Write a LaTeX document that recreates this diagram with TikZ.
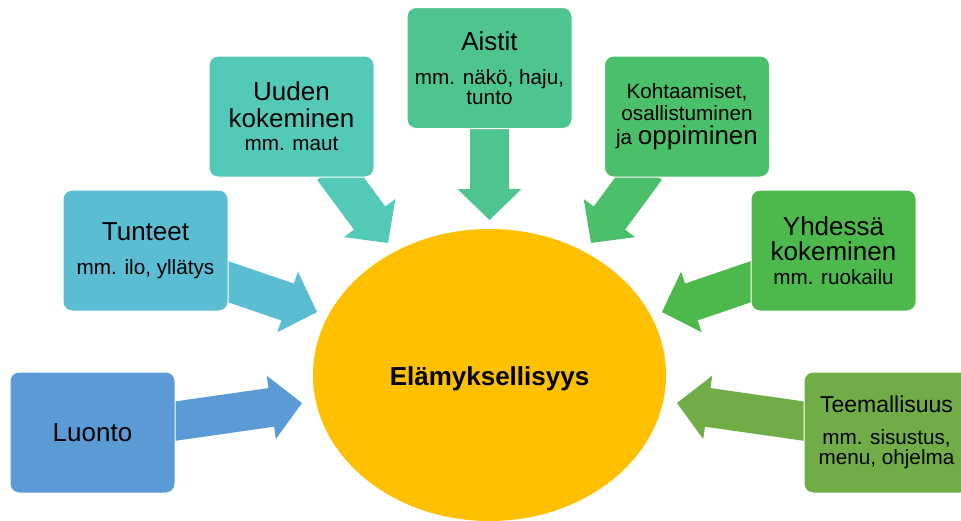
\documentclass[tikz,border=0pt]{standalone}
\usepackage{fontspec}
\setmainfont{Liberation Sans}
\usetikzlibrary{calc,shapes.geometric}
\definecolor{cLu}{HTML}{5B9BD5}
\definecolor{cTu}{HTML}{5BBDD1}
\definecolor{cUu}{HTML}{53CAB7}
\definecolor{cAi}{HTML}{4EC58F}
\definecolor{cKo}{HTML}{4AC06A}
\definecolor{cYh}{HTML}{4DB94D}
\definecolor{cTe}{HTML}{70AD47}
\definecolor{cEl}{HTML}{FFC000}
\newcommand\myT{\fontsize{26}{26}\selectfont}
\newcommand\myS{\fontsize{20.7}{26}\selectfont}
\newcommand\fatarr[3]{%
  \coordinate (fa-s) at ($(#2)!-12pt!(#3)$);
  \coordinate (fa-h) at ($(#3)!31pt!(#2)$);
  \fill[#1] ($(fa-s)!19.5pt!90:(#3)$) -- ($(fa-h)!19.5pt!90:(#3)$) -- ($(fa-h)!32pt!90:(#3)$) -- (#3)
    -- ($(fa-h)!32pt!-90:(#3)$) -- ($(fa-h)!19.5pt!-90:(#3)$) -- ($(fa-s)!19.5pt!-90:(#3)$) -- cycle;}
\begin{document}
\begin{tikzpicture}[x=1pt,y=-1pt,
  box/.style={rectangle, rounded corners=9pt, minimum width=165pt, minimum height=121pt,
    draw=white, line width=1pt, align=center, inner sep=0pt, text=black,
    font=\fontsize{20.7}{26}\selectfont},
  centre/.style={ellipse, fill=cEl, minimum width=353pt, minimum height=292pt, inner sep=0pt,
    text height=20pt, text depth=0pt,
    font=\fontsize{26}{30}\selectfont\bfseries}]
\clip (0,0) rectangle (961,520);
\fill[white] (0,0) rectangle (961,520);
% centre
\node[centre] (el) at (489.5,375) {Elämyksellisyys};
% arrow end points
\coordinate (luS) at (176,421);   \coordinate (luT) at (302,403);
\coordinate (tuS) at (229,282);   \coordinate (tuT) at (317,312);
\coordinate (uuS) at (340,178);   \coordinate (uuT) at (388,243);
\coordinate (aiS) at (489.5,129); \coordinate (aiT) at (489.5,220);
\coordinate (koS) at (639,178);   \coordinate (koT) at (591,243);
\coordinate (yhS) at (750,282);   \coordinate (yhT) at (662,312);
\coordinate (teS) at (803,421);   \coordinate (teT) at (677,403);
\fatarr{cLu}{luS}{luT}
\fatarr{cTu}{tuS}{tuT}
\fatarr{cUu}{uuS}{uuT}
\fatarr{cAi}{aiS}{aiT}
\fatarr{cKo}{koS}{koT}
\fatarr{cYh}{yhS}{yhT}
\fatarr{cTe}{teS}{teT}
% boxes
\node[box, fill=cLu] (lu) at (92.5,432.5) {\myT Luonto};
\node[box, fill=cTu] (tu) at (145.5,250.5) {\myT Tunteet\\[8pt]\myS mm. ilo, yllätys};
\node[box, fill=cUu] (uu) at (291.5,116.5) {\myT Uuden\\[1pt]\myT kokeminen\\[-3pt]\myS mm. maut};
\node[box, fill=cAi] (ai) at (489.5,68) {\myT Aistit\\[8pt]\myS mm. näkö, haju,\\[-6pt]\myS tunto};
\node[box, fill=cKo] (ko) at (687,116.5) {\myS Kohtaamiset,\\[-4pt]\myS osallistuminen\\[-1.5pt]\myS ja \myT oppiminen};
\node[box, fill=cYh] (yh) at (833.5,250.5) {\myT Yhdessä\\[-1pt]\myT kokeminen\\[-2pt]\myS mm. ruokailu};
\node[box, fill=cTe] (te) at (886.5,432.5) {\fontsize{23}{26}\selectfont Teemallisuus\\[6pt]\myS mm. sisustus,\\[-6pt]\myS menu, ohjelma};
\end{tikzpicture}
\end{document}
